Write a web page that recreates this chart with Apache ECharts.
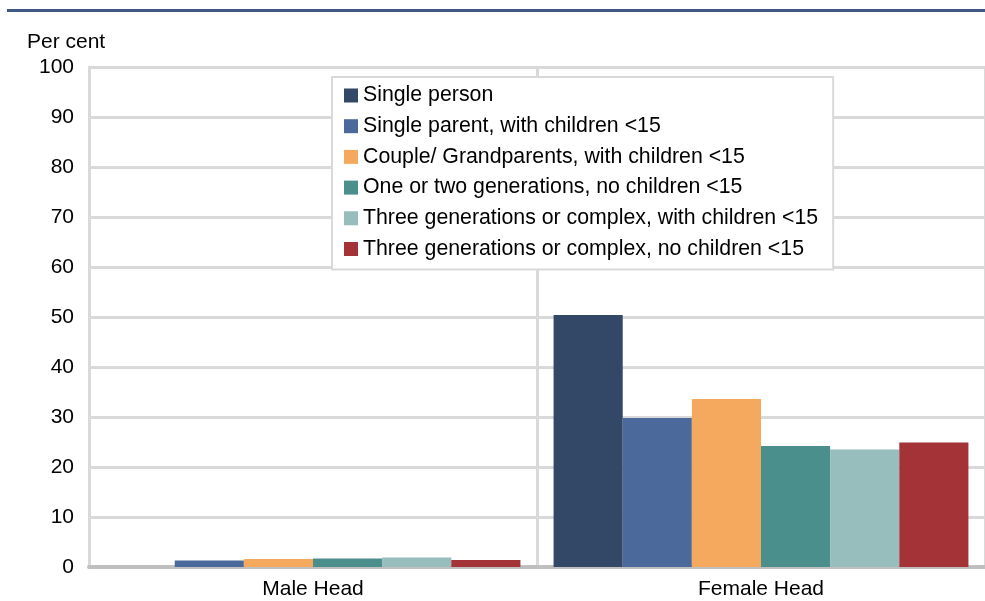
<!DOCTYPE html>
<html>
<head>
<meta charset="utf-8">
<script src="https://cdn.jsdelivr.net/npm/echarts@6/dist/echarts.min.js"></script>
<style>
  html, body { margin: 0; padding: 0; background: #fff; }
  #chart { width: 985px; height: 601px; }
</style>
</head>
<body>
<div id="chart"></div>
<script>
const categories = ['Male Head', 'Female Head']
const seriesNames = [
  'Single person',
  'Single parent, with children <15',
  'Couple/ Grandparents, with children <15',
  'One or two generations, no children <15',
  'Three generations or complex, with children <15',
  'Three generations or complex, no children <15'
]
const singlePerson = [0, 50.4]
const singleParent = [1.3, 29.8]
const coupleGrand = [1.6, 33.6]
const oneTwoGen = [1.7, 24.2]
const threeGenWith = [1.9, 23.5]
const threeGenNo = [1.4, 24.9]
const yTicks = { min: 0, max: 100, interval: 10 }

const colors = ['#334766', '#4b6a9b', '#f5a95e', '#4a8f8c', '#98bdbd', '#a33336']
const values = [singlePerson, singleParent, coupleGrand, oneTwoGen, threeGenWith, threeGenNo]

const chart = echarts.init(document.getElementById('chart'))
const font = 'Liberation Sans, Arial, sans-serif'

const option = {
  animation: false,
  color: colors,
  textStyle: { fontFamily: font },
  grid: { left: 89, right: 0, top: 67, bottom: 34 },
  legend: {
    orient: 'vertical',
    left: 332,
    top: 77,
    backgroundColor: '#fff',
    borderColor: '#d9d9d9',
    borderWidth: 2,
    padding: [8, 15, 10, 12],
    itemWidth: 14,
    itemHeight: 14,
    itemGap: 9.7,
    icon: 'rect',
    textStyle: { fontSize: 21.3, color: '#000', fontFamily: font },
    data: seriesNames,
    z: 10
  },
  graphic: [
    {
      type: 'rect',
      shape: { x: 7, y: 9, width: 978, height: 3 },
      style: { fill: '#3f5a82' }
    },
    {
      type: 'text',
      left: 27,
      top: 32,
      style: { text: 'Per cent', fontSize: 21, fill: '#000', fontFamily: font }
    }
  ],
  xAxis: {
    type: 'category',
    data: categories,
    axisTick: { show: false },
    axisLine: { show: true, lineStyle: { color: '#bfbfbf', width: 4 } },
    axisLabel: { fontSize: 21, color: '#000', margin: 12, fontFamily: font },
    splitLine: { show: true, lineStyle: { color: '#d9d9d9', width: 3 } }
  },
  yAxis: {
    type: 'value',
    min: yTicks.min,
    max: yTicks.max,
    interval: yTicks.interval,
    axisLine: { show: true, lineStyle: { color: '#d9d9d9', width: 3 } },
    axisTick: { show: false },
    axisLabel: { fontSize: 21, color: '#000', margin: 15, fontFamily: font },
    splitLine: { show: true, lineStyle: { color: '#d9d9d9', width: 3 } }
  },
  series: seriesNames.map((name, i) => ({
    name: name,
    type: 'bar',
    data: values[i],
    barGap: 0,
    barCategoryGap: '7.4%'
  }))
}

chart.setOption(option)
</script>
</body>
</html>
